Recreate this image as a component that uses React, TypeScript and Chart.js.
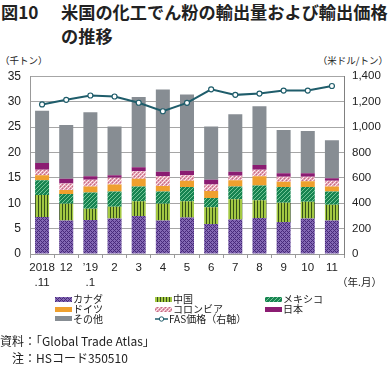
import React, { useEffect, useRef, useState } from "react";
import { Chart, registerables } from "chart.js";

Chart.register(...registerables);

const categories: (string | string[])[] = [
  ["2018", ".11"], "12", ["\u201919", ".1"], "2", "3", "4", "5", "6", "7", "8", "9", "10", "11",
];
const canada = [7.3, 6.6, 6.7, 7.0, 7.5, 6.6, 7.2, 5.9, 6.8, 7.1, 6.3, 7.0, 6.6];
const china = [4.3, 3.3, 2.2, 2.3, 2.9, 3.3, 3.2, 3.3, 4.0, 3.5, 3.8, 3.3, 3.1];
const mexico = [2.9, 1.9, 3.2, 3.0, 2.9, 2.4, 2.8, 1.8, 2.5, 2.9, 3.1, 2.9, 2.6];
const germany = [1.0, 0.8, 1.2, 1.4, 1.5, 1.1, 1.2, 1.4, 1.2, 1.8, 1.0, 1.1, 1.0];
const colombia = [1.1, 1.3, 1.3, 1.3, 1.5, 1.9, 1.1, 1.3, 0.9, 1.3, 1.0, 0.9, 1.1];
const japan = [1.3, 0.9, 0.7, 0.5, 0.8, 0.9, 0.9, 0.9, 0.8, 0.9, 0.7, 0.7, 0.5];
const other = [10.3, 10.6, 12.6, 9.6, 13.8, 16.2, 15.0, 10.5, 11.3, 11.6, 8.5, 8.3, 7.5];
const fasPrice = [1178, 1214, 1248, 1240, 1191, 1124, 1190, 1297, 1253, 1263, 1287, 1287, 1323];

const leftTicks = { min: 0, max: 35, step: 5 };
const rightTicks = { min: 0, max: 1400, step: 200 };

const LINE_COLOR = "#1f5d6b";
const JP = "'Noto Sans CJK JP', 'Noto Sans', sans-serif";
const NUM = "'Liberation Sans', Arial, sans-serif";

function makeCanvas(w: number, h: number, draw: (ctx: CanvasRenderingContext2D) => void) {
  const c = document.createElement("canvas");
  c.width = w;
  c.height = h;
  const ctx = c.getContext("2d")!;
  draw(ctx);
  return c;
}

function buildPatterns() {
  const canadaC = makeCanvas(4, 4, (ctx) => {
    ctx.fillStyle = "#8368b3";
    ctx.fillRect(0, 0, 4, 4);
    ctx.fillStyle = "#47297a";
    for (let x = 0; x < 4; x++)
      for (let y = 0; y < 4; y++)
        if ((x + y) % 4 === 0 || (x - y + 4) % 4 === 0) ctx.fillRect(x, y, 1, 1);
  });
  const chinaC = makeCanvas(3, 3, (ctx) => {
    ctx.fillStyle = "#a3c842";
    ctx.fillRect(0, 0, 3, 3);
    ctx.fillStyle = "#35501a";
    ctx.fillRect(2, 0, 1, 3);
  });
  const mexicoC = makeCanvas(4, 4, (ctx) => {
    ctx.fillStyle = "#178451";
    ctx.fillRect(0, 0, 4, 4);
    ctx.fillStyle = "#74c597";
    for (let x = 0; x < 4; x++)
      for (let y = 0; y < 4; y++) if ((x + y) % 4 === 0) ctx.fillRect(x, y, 1, 1);
  });
  const colombiaC = makeCanvas(4, 4, (ctx) => {
    ctx.fillStyle = "#e3a0b2";
    ctx.fillRect(0, 0, 4, 4);
    for (let x = 0; x < 4; x++)
      for (let y = 0; y < 4; y++) {
        if ((x + y) % 4 === 0) {
          ctx.fillStyle = "#fbeef1";
          ctx.fillRect(x, y, 1, 1);
        } else if ((x - y + 4) % 4 === 2) {
          ctx.fillStyle = "#c46d86";
          ctx.fillRect(x, y, 1, 1);
        }
      }
  });
  return { canadaC, chinaC, mexicoC, colombiaC };
}

type Swatch = { label: string; bg: string; line?: boolean };

export default function App() {
  const ref = useRef<HTMLCanvasElement>(null);
  const [swatches, setSwatches] = useState<Swatch[][]>([]);

  useEffect(() => {
    const p = buildPatterns();
    const ctx = ref.current!.getContext("2d")!;
    const pat = (c: HTMLCanvasElement) => ctx.createPattern(c, "repeat")!;
    const germanyColor = "#efa02e";
    const japanColor = "#8b1c72";
    const otherColor = "#878d93";

    const barDs = (label: string, data: number[], bg: any) => ({
      type: "bar" as const,
      label,
      data,
      backgroundColor: bg,
      borderWidth: 0,
      yAxisID: "y",
      stack: "s",
      barPercentage: 0.58,
      categoryPercentage: 1,
      order: 1,
    });

    const chart = new Chart(ctx, {
      data: {
        labels: categories,
        datasets: [
          barDs("カナダ", canada, pat(p.canadaC)),
          barDs("中国", china, pat(p.chinaC)),
          barDs("メキシコ", mexico, pat(p.mexicoC)),
          barDs("ドイツ", germany, germanyColor),
          barDs("コロンビア", colombia, pat(p.colombiaC)),
          barDs("日本", japan, japanColor),
          barDs("その他", other, otherColor),
          {
            type: "line" as const,
            label: "FAS価格（右軸）",
            data: fasPrice,
            borderColor: LINE_COLOR,
            borderWidth: 2,
            pointRadius: 2.5,
            pointBackgroundColor: "#ffffff",
            pointBorderColor: LINE_COLOR,
            pointBorderWidth: 1.2,
            yAxisID: "y1",
            tension: 0,
            order: 0,
          },
        ],
      } as any,
      options: {
        responsive: false,
        animation: false,
        devicePixelRatio: 1,
        layout: { padding: { top: 13, left: 0, right: 0, bottom: 0 } },
        plugins: { legend: { display: false }, tooltip: { enabled: false } },
        scales: {
          x: {
            stacked: true,
            offset: true,
            grid: {
              offset: true,
              drawOnChartArea: false,
              drawTicks: true,
              tickLength: 4,
              color: "#999999",
            },
            border: { display: true, color: "#999999" },
            ticks: {
              autoSkip: false,
              maxRotation: 0,
              padding: 2,
              color: "#222222",
              font: { family: NUM, size: 11.5, lineHeight: 1.3 },
            },
            afterFit: (s: any) => {
              s.height = 42;
            },
          },
          y: {
            position: "left",
            stacked: true,
            min: leftTicks.min,
            max: leftTicks.max,
            ticks: {
              stepSize: leftTicks.step,
              padding: 9,
              color: "#222222",
              font: { family: NUM, size: 12 },
            },
            grid: { color: "#a6a6a6", drawTicks: false, lineWidth: 1 },
            border: { display: true, color: "#999999" },
            afterFit: (s: any) => {
              s.width = 30;
            },
          },
          y1: {
            position: "right",
            min: rightTicks.min,
            max: rightTicks.max,
            ticks: {
              stepSize: rightTicks.step,
              padding: 8,
              color: "#222222",
              font: { family: NUM, size: 11.5 },
              callback: (v: any) => Number(v).toLocaleString("en-US"),
            },
            grid: { drawOnChartArea: false, drawTicks: false },
            border: { display: true, color: "#808080" },
            afterFit: (s: any) => {
              s.width = 47;
            },
          },
        },
      } as any,
    });

    setSwatches([
      [
        { label: "カナダ", bg: p.canadaC.toDataURL() },
        { label: "ドイツ", bg: germanyColor },
        { label: "その他", bg: otherColor },
      ],
      [
        { label: "中国", bg: p.chinaC.toDataURL() },
        { label: "コロンビア", bg: p.colombiaC.toDataURL() },
        { label: "FAS価格（右軸）", bg: "", line: true },
      ],
      [
        { label: "メキシコ", bg: p.mexicoC.toDataURL() },
        { label: "日本", bg: japanColor },
      ],
    ]);

    return () => chart.destroy();
  }, []);

  const colX = [55, 155, 265];
  const rowY = [294, 304, 313.5];

  const abs = (s: React.CSSProperties): React.CSSProperties => ({ position: "absolute", whiteSpace: "nowrap", ...s });

  return (
    <div style={{ position: "absolute", left: 0, top: 0, width: 391, height: 366, overflow: "hidden", background: "#fff", color: "#222", fontFamily: JP }}>
      <div style={abs({ left: 1, top: 0, fontSize: 17.2, fontWeight: 700, lineHeight: "23px" })}>図10</div>
      <div style={abs({ left: 61, top: 0, fontSize: 17.2, fontWeight: 700, lineHeight: "23px" })}>米国の化工でん粉の輸出量および輸出価格</div>
      <div style={abs({ left: 61, top: 24, fontSize: 17.2, fontWeight: 700, lineHeight: "23px" })}>の推移</div>

      <div style={abs({ left: 0, top: 53, fontSize: 9.5, lineHeight: "14px" })}>（千トン）</div>
      <div style={abs({ right: 3, top: 53, fontSize: 9.5, lineHeight: "14px" })}>（米ドル/トン）</div>

      <canvas ref={ref} width={391} height={236} style={{ position: "absolute", left: 0, top: 60, width: 391, height: 236 }} />

      <div style={abs({ right: 9, top: 275, fontSize: 10.5, lineHeight: "14px" })}>（年.月）</div>

      {swatches.map((col, ci) =>
        col.map((it, ri) => (
          <div key={ci + "-" + ri} style={abs({ left: colX[ci], top: rowY[ri], height: 10, display: "flex", alignItems: "center", fontSize: 10, lineHeight: "10px" })}>
            {it.line ? (
              <svg width={13} height={8} style={{ display: "block", marginRight: 1 }}>
                <line x1={0} y1={4} x2={13} y2={4} stroke={LINE_COLOR} strokeWidth={1.5} />
                <circle cx={6.5} cy={4} r={2.2} fill="#fff" stroke={LINE_COLOR} strokeWidth={1} />
              </svg>
            ) : (
              <div
                style={{
                  width: 17,
                  height: 5,
                  marginRight: 1,
                  background: it.bg.startsWith("data:") ? `url(${it.bg}) repeat` : it.bg,
                }}
              />
            )}
            <span>{it.label}</span>
          </div>
        ))
      )}

      <div style={abs({ left: 0, top: 333, fontSize: 12, lineHeight: "16px" })}>資料：「Global Trade Atlas」</div>
      <div style={abs({ left: 12, top: 350, fontSize: 12, lineHeight: "16px" })}>注：HSコード350510</div>
    </div>
  );
}
